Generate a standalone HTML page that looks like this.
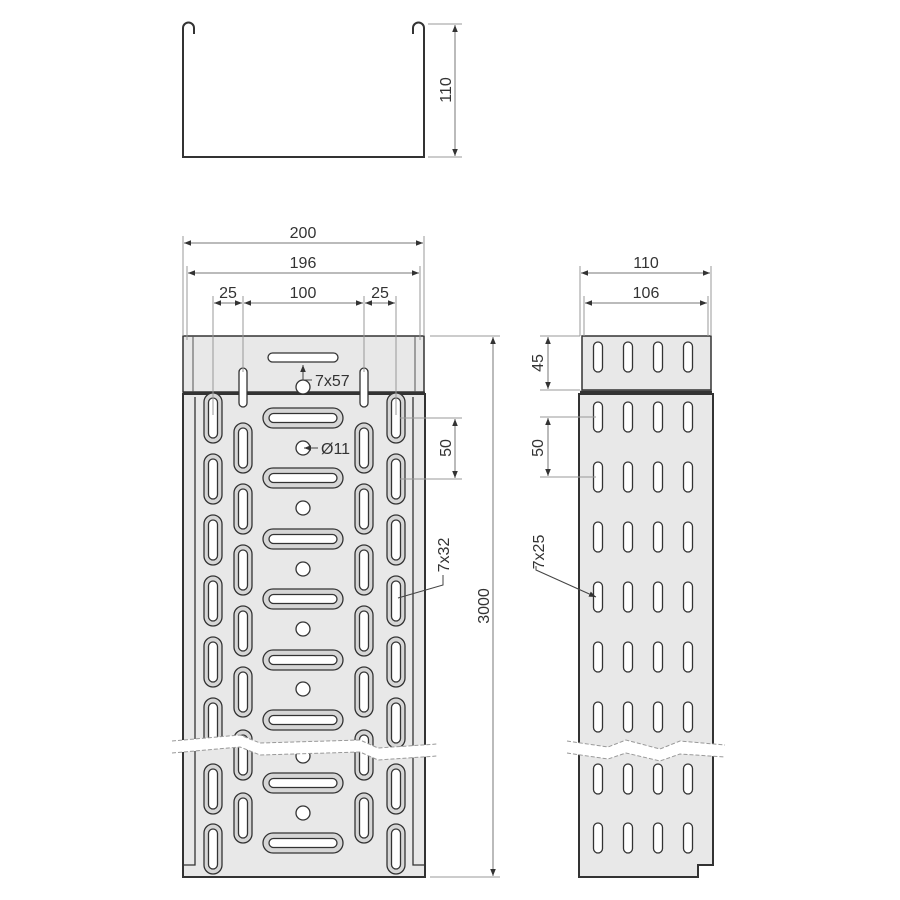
<!DOCTYPE html>
<html><head><meta charset="utf-8"><style>
html,body{margin:0;padding:0;background:#fff}
svg{display:block}
text{font-family:"Liberation Sans",Arial,sans-serif;font-size:16px;fill:#333}
</style></head><body>
<svg width="900" height="900" viewBox="0 0 900 900" xmlns="http://www.w3.org/2000/svg">
<defs>
<marker id="a" viewBox="0 0 10 10" refX="10" refY="5" markerWidth="7" markerHeight="7" orient="auto-start-reverse"><path d="M0,1 L10,5 L0,9 z" fill="#333"/></marker>
<g id="vs"><rect x="-9" y="-25" width="18" height="50" rx="9" fill="#d6d6d6" stroke="#333" stroke-width="1.3"/><rect x="-4.5" y="-20" width="9" height="40" rx="4.5" fill="#fff" stroke="#333" stroke-width="1.3"/></g>
<g id="hs"><rect x="-40" y="-10" width="80" height="20" rx="10" fill="#d6d6d6" stroke="#333" stroke-width="1.3"/><rect x="-34" y="-4.5" width="68" height="9" rx="4.5" fill="#fff" stroke="#333" stroke-width="1.3"/></g>
<g id="rs"><rect x="-4.5" y="-15" width="9" height="30" rx="4.5" fill="#fff" stroke="#333" stroke-width="1.3"/></g>
</defs>

<path d="M194,34 L194,28 A5.5,5.5 0 0 0 183,28 L183,157 L424,157 L424,28 A5.5,5.5 0 0 0 413,28 L413,34" fill="none" stroke="#333" stroke-width="2"/>
<g stroke="#999" stroke-width="1"><line x1="428" y1="24" x2="462" y2="24"/><line x1="428" y1="157" x2="462" y2="157"/></g>
<line x1="455" y1="25" x2="455" y2="156" stroke="#777" marker-start="url(#a)" marker-end="url(#a)"/>
<text transform="translate(451,90) rotate(-90)" text-anchor="middle">110</text>

<rect x="183" y="336" width="241" height="56" fill="#e8e8e8" stroke="#333" stroke-width="1.5"/>
<line x1="193" y1="336" x2="193" y2="392" stroke="#555"/><line x1="415" y1="336" x2="415" y2="392" stroke="#555"/>
<rect x="183" y="394" width="242" height="483" fill="#e8e8e8" stroke="#333" stroke-width="2"/>
<path d="M195,397 L195,865 L183,865 M413,397 L413,865 L425,865" fill="none" stroke="#333" stroke-width="1.3"/>
<line x1="183" y1="393" x2="425" y2="393" stroke="#333" stroke-width="2.5"/>
<rect x="268" y="353" width="70" height="9" rx="4.5" fill="#fff" stroke="#333" stroke-width="1.3"/>
<rect x="239" y="368" width="8" height="39" rx="4" fill="#fff" stroke="#333" stroke-width="1.3"/>
<rect x="360" y="368" width="8" height="39" rx="4" fill="#fff" stroke="#333" stroke-width="1.3"/>
<circle cx="303" cy="387" r="7" fill="#fff" stroke="#333" stroke-width="1.3"/>
<g>
<use href="#vs" x="213" y="418"/><use href="#vs" x="213" y="479"/><use href="#vs" x="213" y="540"/><use href="#vs" x="213" y="601"/><use href="#vs" x="213" y="662"/><use href="#vs" x="213" y="723"/><use href="#vs" x="213" y="789"/><use href="#vs" x="213" y="849"/>
<use href="#vs" x="396" y="418"/><use href="#vs" x="396" y="479"/><use href="#vs" x="396" y="540"/><use href="#vs" x="396" y="601"/><use href="#vs" x="396" y="662"/><use href="#vs" x="396" y="723"/><use href="#vs" x="396" y="789"/><use href="#vs" x="396" y="849"/>
<use href="#vs" x="243" y="448"/><use href="#vs" x="243" y="509"/><use href="#vs" x="243" y="570"/><use href="#vs" x="243" y="631"/><use href="#vs" x="243" y="692"/><use href="#vs" x="243" y="755"/><use href="#vs" x="243" y="818"/>
<use href="#vs" x="364" y="448"/><use href="#vs" x="364" y="509"/><use href="#vs" x="364" y="570"/><use href="#vs" x="364" y="631"/><use href="#vs" x="364" y="692"/><use href="#vs" x="364" y="755"/><use href="#vs" x="364" y="818"/>
<use href="#hs" x="303" y="418"/><use href="#hs" x="303" y="478"/><use href="#hs" x="303" y="539"/><use href="#hs" x="303" y="599"/><use href="#hs" x="303" y="660"/><use href="#hs" x="303" y="720"/><use href="#hs" x="303" y="783"/><use href="#hs" x="303" y="843"/>
</g>
<g fill="#fff" stroke="#333" stroke-width="1.3">
<circle cx="303" cy="448" r="7"/><circle cx="303" cy="508" r="7"/><circle cx="303" cy="569" r="7"/><circle cx="303" cy="629" r="7"/><circle cx="303" cy="689" r="7"/><circle cx="303" cy="756" r="7"/><circle cx="303" cy="813" r="7"/>
</g>
<path d="M172,741 L240,735 L260,743 L360,740 L378,748 L437,744 L437,756 L378,760 L360,752 L260,755 L240,747 L172,753 z" fill="#fff"/>
<path d="M172,741 L240,735 L260,743 L360,740 L378,748 L437,744 M172,753 L240,747 L260,755 L360,752 L378,760 L437,756" fill="none" stroke="#999" stroke-dasharray="4,2"/>

<g stroke="#999" stroke-width="1">
<line x1="183" y1="236" x2="183" y2="336"/><line x1="424" y1="236" x2="424" y2="336"/>
<line x1="187" y1="266" x2="187" y2="340"/><line x1="420" y1="266" x2="420" y2="340"/>
<line x1="213" y1="296" x2="213" y2="415"/><line x1="243" y1="296" x2="243" y2="372"/>
<line x1="364" y1="296" x2="364" y2="372"/><line x1="396" y1="296" x2="396" y2="415"/>
<line x1="430" y1="336" x2="500" y2="336"/><line x1="430" y1="877" x2="500" y2="877"/>
<line x1="400" y1="418" x2="462" y2="418"/><line x1="400" y1="479" x2="462" y2="479"/>
</g>
<g stroke="#777" stroke-width="1" fill="none">
<line x1="184" y1="243" x2="423" y2="243" marker-start="url(#a)" marker-end="url(#a)"/>
<line x1="188" y1="273" x2="419" y2="273" marker-start="url(#a)" marker-end="url(#a)"/>
<line x1="214" y1="303" x2="242" y2="303" marker-start="url(#a)" marker-end="url(#a)"/>
<line x1="244" y1="303" x2="363" y2="303" marker-start="url(#a)" marker-end="url(#a)"/>
<line x1="365" y1="303" x2="395" y2="303" marker-start="url(#a)" marker-end="url(#a)"/>
<line x1="493" y1="337" x2="493" y2="876" marker-start="url(#a)" marker-end="url(#a)"/>
<line x1="455" y1="419" x2="455" y2="478" marker-start="url(#a)" marker-end="url(#a)"/>
</g>
<text x="303" y="238" text-anchor="middle">200</text>
<text x="303" y="268" text-anchor="middle">196</text>
<text x="228" y="298" text-anchor="middle">25</text>
<text x="303" y="298" text-anchor="middle">100</text>
<text x="380" y="298" text-anchor="middle">25</text>
<text transform="translate(489,606) rotate(-90)" text-anchor="middle">3000</text>
<text transform="translate(451,448) rotate(-90)" text-anchor="middle">50</text>
<g stroke="#444" stroke-width="1" fill="none">
<path d="M312,380 L303,380 L303,365" marker-end="url(#a)"/>
<line x1="318" y1="448" x2="304" y2="448" marker-end="url(#a)"/>
<path d="M443,575 L443,585 L398,598"/>
</g>
<text x="315" y="386">7x57</text>
<text x="321" y="454">Ø11</text>
<text transform="translate(449,555) rotate(-90)" text-anchor="middle">7x32</text>

<rect x="582" y="336" width="129" height="54" fill="#e8e8e8" stroke="#333" stroke-width="1.5"/>
<path d="M579,394 L713,394 L713,865 L698,865 L698,877 L579,877 z" fill="#e8e8e8" stroke="#333" stroke-width="2"/>
<line x1="580" y1="392" x2="712" y2="392" stroke="#333" stroke-width="2.5"/>
<g>
<use href="#rs" x="598" y="357"/><use href="#rs" x="628" y="357"/><use href="#rs" x="658" y="357"/><use href="#rs" x="688" y="357"/>
<use href="#rs" x="598" y="417"/><use href="#rs" x="628" y="417"/><use href="#rs" x="658" y="417"/><use href="#rs" x="688" y="417"/>
<use href="#rs" x="598" y="477"/><use href="#rs" x="628" y="477"/><use href="#rs" x="658" y="477"/><use href="#rs" x="688" y="477"/>
<use href="#rs" x="598" y="537"/><use href="#rs" x="628" y="537"/><use href="#rs" x="658" y="537"/><use href="#rs" x="688" y="537"/>
<use href="#rs" x="598" y="597"/><use href="#rs" x="628" y="597"/><use href="#rs" x="658" y="597"/><use href="#rs" x="688" y="597"/>
<use href="#rs" x="598" y="657"/><use href="#rs" x="628" y="657"/><use href="#rs" x="658" y="657"/><use href="#rs" x="688" y="657"/>
<use href="#rs" x="598" y="717"/><use href="#rs" x="628" y="717"/><use href="#rs" x="658" y="717"/><use href="#rs" x="688" y="717"/>
<use href="#rs" x="598" y="779"/><use href="#rs" x="628" y="779"/><use href="#rs" x="658" y="779"/><use href="#rs" x="688" y="779"/>
<use href="#rs" x="598" y="838"/><use href="#rs" x="628" y="838"/><use href="#rs" x="658" y="838"/><use href="#rs" x="688" y="838"/>
</g>
<path d="M567,741 L608,747 L626,740 L660,749 L680,741 L725,745 L725,757 L680,754 L660,761 L626,753 L608,759 L567,753 z" fill="#fff"/>
<path d="M567,741 L608,747 L626,740 L660,749 L680,741 L725,745 M567,753 L608,759 L626,753 L660,761 L680,754 L725,757" fill="none" stroke="#999" stroke-dasharray="4,2"/>
<g stroke="#999" stroke-width="1">
<line x1="580" y1="266" x2="580" y2="336"/><line x1="711" y1="266" x2="711" y2="336"/>
<line x1="584" y1="296" x2="584" y2="336"/><line x1="708" y1="296" x2="708" y2="336"/>
<line x1="540" y1="336" x2="580" y2="336"/><line x1="540" y1="390" x2="580" y2="390"/>
<line x1="540" y1="417" x2="596" y2="417"/><line x1="540" y1="477" x2="596" y2="477"/>
</g>
<g stroke="#777" stroke-width="1" fill="none">
<line x1="581" y1="273" x2="710" y2="273" marker-start="url(#a)" marker-end="url(#a)"/>
<line x1="585" y1="303" x2="707" y2="303" marker-start="url(#a)" marker-end="url(#a)"/>
<line x1="548" y1="337" x2="548" y2="389" marker-start="url(#a)" marker-end="url(#a)"/>
<line x1="548" y1="418" x2="548" y2="476" marker-start="url(#a)" marker-end="url(#a)"/>
</g>
<text x="646" y="268" text-anchor="middle">110</text>
<text x="646" y="298" text-anchor="middle">106</text>
<text transform="translate(543,363) rotate(-90)" text-anchor="middle">45</text>
<text transform="translate(543,448) rotate(-90)" text-anchor="middle">50</text>
<text transform="translate(544,552) rotate(-90)" text-anchor="middle">7x25</text>
<path d="M536,566 L536,570 L596,597" stroke="#444" fill="none" marker-end="url(#a)"/>
</svg>
</body></html>
